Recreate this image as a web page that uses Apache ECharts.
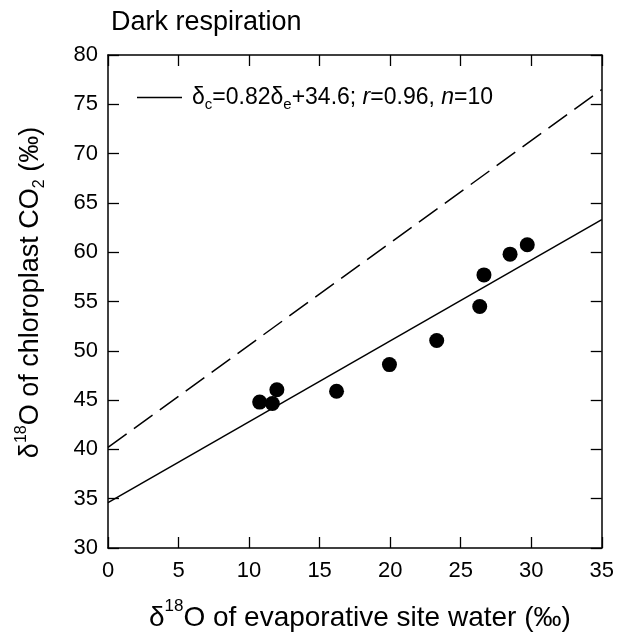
<!DOCTYPE html>
<html>
<head>
<meta charset="utf-8">
<script src="https://cdn.jsdelivr.net/npm/echarts@6/dist/echarts.min.js"></script>
<style>html,body{margin:0;padding:0;background:#fff;}#c{width:617px;height:637px;}</style>
</head>
<body>
<div id="c"></div>
<script>
// Data
var points = [
  [10.75, 44.8], [11.65, 44.65], [11.97, 46.05], [16.2, 45.9], [19.95, 48.6],
  [23.3, 51.05], [26.35, 54.5], [26.65, 57.7], [28.5, 59.8], [29.72, 60.75]
];
var fitLine = [[0, 34.6], [35, 63.3]];
var dashLine = [[0, 40.2], [35, 76.5]];
var xTicks = [0, 35, 5];
var yTicks = [30, 80, 5];

var FONT = 'Liberation Sans, Arial, sans-serif';
var chart = echarts.init(document.getElementById('c'));
function tick() { return {show: true, inside: true, length: 11, lineStyle: {color: '#000', width: 1.3}}; }
function line() { return {show: true, onZero: false, lineStyle: {color: '#000', width: 1.5}}; }
chart.setOption({
  animation: false,
  backgroundColor: '#fff',
  grid: {left: 108, right: 15, top: 55, bottom: 87},
  graphic: [
    {type: 'text', left: 111, top: 9, style: {text: 'Dark respiration', font: '27px ' + FONT, fill: '#000'}}
  ],
  legend: {
    left: 137, top: 86, padding: 0, itemWidth: 45, itemHeight: 1.5, itemGap: 10,
    data: [{name: 'fit', icon: 'rect'}],
    formatter: function () {
      return '{m|δ}{s|c}{m|=0.82δ}{s|e}{m|+34.6; }{i|r}{m|=0.96, }{i|n}{m|=10}';
    },
    textStyle: {
      color: '#000', fontFamily: FONT, fontSize: 23, padding: [0, 0, 0, 5],
      rich: {
        m: {fontSize: 23, fontFamily: FONT, lineHeight: 30, verticalAlign: 'middle', color: '#000'},
        s: {fontSize: 15, fontFamily: FONT, lineHeight: 30, verticalAlign: 'bottom', color: '#000'},
        i: {fontSize: 23, fontFamily: FONT, fontStyle: 'italic', lineHeight: 30, verticalAlign: 'middle', color: '#000'}
      }
    }
  },
  xAxis: [
    {
      type: 'value', min: xTicks[0], max: xTicks[1], interval: xTicks[2], position: 'bottom',
      axisLine: line(), axisTick: tick(), splitLine: {show: false},
      axisLabel: {color: '#000', fontSize: 22, fontFamily: FONT, margin: 12},
      name: '{m|δ}{sup|18}{m|O of evaporative site water (‰)}',
      nameLocation: 'middle', nameGap: 50,
      nameTextStyle: {
        padding: [0, 0, 0, 10],
        rich: {
          m: {fontSize: 28, fontFamily: FONT, lineHeight: 34, verticalAlign: 'bottom', color: '#000'},
          sup: {fontSize: 17, fontFamily: FONT, lineHeight: 34, verticalAlign: 'top', color: '#000'}
        }
      }
    },
    {
      type: 'value', min: xTicks[0], max: xTicks[1], interval: xTicks[2], position: 'top',
      axisLine: line(), axisTick: tick(), splitLine: {show: false},
      axisLabel: {show: false}
    }
  ],
  yAxis: [
    {
      type: 'value', min: yTicks[0], max: yTicks[1], interval: yTicks[2], position: 'left',
      axisLine: line(), axisTick: tick(), splitLine: {show: false},
      axisLabel: {color: '#000', fontSize: 22, fontFamily: FONT, margin: 10},
      name: '{m|δ}{sup|18}{m|O of chloroplast CO}{sub|2}{m| (‰)}',
      nameLocation: 'middle', nameGap: 60, nameRotate: 90,
      nameTextStyle: {
        padding: [0, 0, 0, 18],
        rich: {
          m: {fontSize: 27, fontFamily: FONT, lineHeight: 34, verticalAlign: 'middle', color: '#000'},
          sup: {fontSize: 16, fontFamily: FONT, lineHeight: 34, verticalAlign: 'top', color: '#000'},
          sub: {fontSize: 16, fontFamily: FONT, lineHeight: 34, verticalAlign: 'bottom', color: '#000'}
        }
      }
    },
    {
      type: 'value', min: yTicks[0], max: yTicks[1], interval: yTicks[2], position: 'right',
      axisLine: line(), axisTick: tick(), splitLine: {show: false},
      axisLabel: {show: false}
    }
  ],
  series: [
    {
      name: 'dash', type: 'line', data: dashLine, showSymbol: false, symbol: 'none',
      lineStyle: {color: '#000', width: 1.5, type: [23, 9]}, silent: true
    },
    {
      name: 'fit', type: 'line', data: fitLine, showSymbol: false, symbol: 'none',
      lineStyle: {color: '#000', width: 1.5}, itemStyle: {color: '#000'}, silent: true
    },
    {
      name: 'pts', type: 'scatter', data: points, symbol: 'circle', symbolSize: 15,
      itemStyle: {color: '#000', opacity: 1}
    }
  ]
});
</script>
</body>
</html>
